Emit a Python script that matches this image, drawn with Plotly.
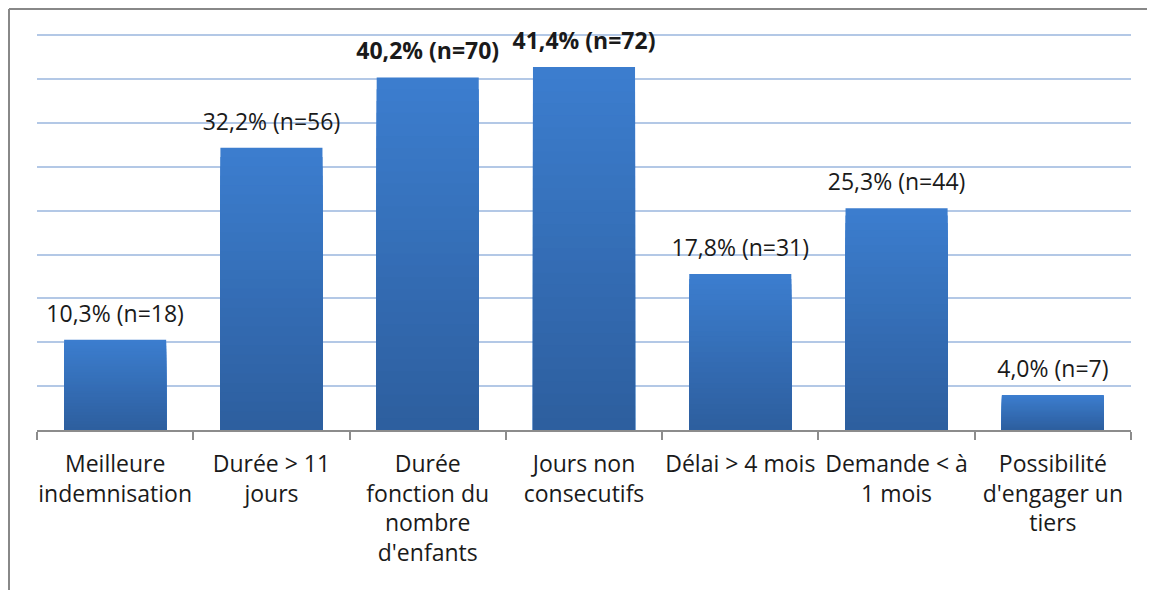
import plotly.graph_objects as go

categories = ["Meilleure<br>indemnisation", "Durée &gt; 11<br>jours",
              "Durée<br>fonction du<br>nombre<br>d'enfants", "Jours non<br>consecutifs",
              "Délai &gt; 4 mois", "Demande &lt; à<br>1 mois",
              "Possibilité<br>d'engager un<br>tiers"]
pct = [10.3, 32.2, 40.2, 41.4, 17.8, 25.3, 4.0]
counts = [18, 56, 70, 72, 31, 44, 7]
bold = [False, False, True, True, False, False, False]

labels = []
for p, n, b in zip(pct, counts, bold):
    s = f"{p:.1f}".replace(".", ",") + f"% (n={n})"
    labels.append(f"<b>{s}</b>" if b else s)

FONT = "Open Sans, Calibri, sans-serif"

# vertical gradient: light at the top, darker at the base
# (drawn as overlapping bars, tallest first, so no seams)
top_rgb = (60, 126, 207)
bot_rgb = (45, 94, 158)
N = 30

fig = go.Figure()
for i in range(N):
    frac = (N - i) / N
    t = (N - i - 0.5) / N
    col = tuple(round(bot_rgb[k] + (top_rgb[k] - bot_rgb[k]) * t) for k in range(3))
    fig.add_trace(go.Bar(
        x=categories, y=[v * frac for v in pct],
        marker=dict(color="rgb(%d,%d,%d)" % col, line_width=0),
        hoverinfo="skip", showlegend=False))

fig.add_trace(go.Scatter(
    x=categories, y=pct, mode="markers+text", text=labels, textposition="top center",
    marker=dict(size=18, opacity=0), cliponaxis=False,
    textfont=dict(family=FONT, size=23, color="#1a1a1a"), showlegend=False, hoverinfo="skip"))

fig.update_layout(
    width=1155, height=590, barmode="overlay", bargap=0.347,
    plot_bgcolor="white", paper_bgcolor="white",
    margin=dict(l=29, r=32, t=23, b=168, autoexpand=False),
    font=dict(family=FONT, size=23, color="#1a1a1a"),
    shapes=[
        dict(type="line", xref="paper", yref="paper", x0=-0.0256, x1=1.03, y0=1.0551, y1=1.0551,
             line=dict(color="#888888", width=2)),
        dict(type="line", xref="paper", yref="paper", x0=-0.0256, x1=-0.0256, y0=1.0551, y1=-0.45,
             line=dict(color="#888888", width=2)),
    ],
)
fig.update_yaxes(range=[0, 45.5], dtick=5, showticklabels=False, gridcolor="#b3c8e6",
                 gridwidth=1.5, zeroline=False, showline=False, automargin=False)
fig.update_xaxes(showline=True, linecolor="#8c8c8c", linewidth=2, ticks="outside",
                 tickson="boundaries", ticklen=8, tickcolor="#8c8c8c", tickwidth=1.5,
                 tickangle=0, automargin=False, ticklabelstandoff=12,
                 tickfont=dict(family=FONT, size=23, color="#1a1a1a"))

fig.write_html("out.html")
